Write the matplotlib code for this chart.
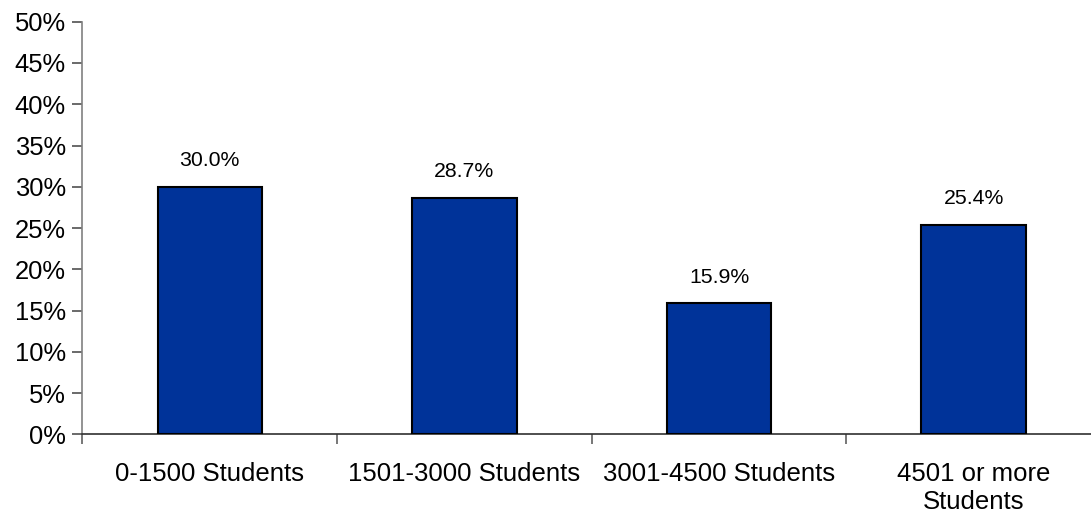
import matplotlib
matplotlib.use('Agg')
import matplotlib.pyplot as plt
import numpy as np

categories = ['0-1500 Students', '1501-3000 Students', '3001-4500 Students',
              '4501 or more\nStudents']
shares = [30.0, 28.7, 15.9, 25.4]   # percent of respondents
yticks = [0, 5, 10, 15, 20, 25, 30, 35, 40, 45, 50]

plt.rcParams['font.family'] = ['Liberation Sans', 'DejaVu Sans']

fig = plt.figure(figsize=(10.91, 5.16), dpi=100)
# the plot area runs a little past the right edge of the canvas
ax = fig.add_axes([0.0756, 0.158, 0.9335, 0.800])

x = np.arange(len(categories))
bars = ax.bar(x, shares, width=0.41, color='#003399', edgecolor='black',
              linewidth=1.5, zorder=3)
for b, v in zip(bars, shares):
    ax.annotate(f'{v:.1f}%', (b.get_x() + b.get_width() / 2, v),
                xytext=(0, 12), textcoords='offset points',
                ha='center', va='bottom', fontsize=15.3)

ax.set_xlim(-0.5, len(categories) - 0.5)
ax.set_ylim(0, 50)
ax.set_yticks(yticks)
ax.set_yticklabels([f'{t}%' for t in yticks], fontsize=18.4)

# category labels sit between boundary ticks
ax.set_xticks(x)
ax.set_xticklabels(categories, fontsize=18.5)
ax.tick_params(axis='x', length=0, pad=20)
ax.set_xticks(np.arange(len(categories) + 1) - 0.5, minor=True)
ax.tick_params(axis='x', which='minor', length=7, color='#606060', width=1.2)
ax.tick_params(axis='y', length=7, color='#505050', width=1.2, pad=5)

for s in ('top', 'right'):
    ax.spines[s].set_visible(False)
ax.spines['left'].set_color('#808080')
ax.spines['left'].set_linewidth(1.2)
ax.spines['bottom'].set_color('#303030')
ax.spines['bottom'].set_linewidth(1.2)

fig.savefig('out.png', dpi=100)
